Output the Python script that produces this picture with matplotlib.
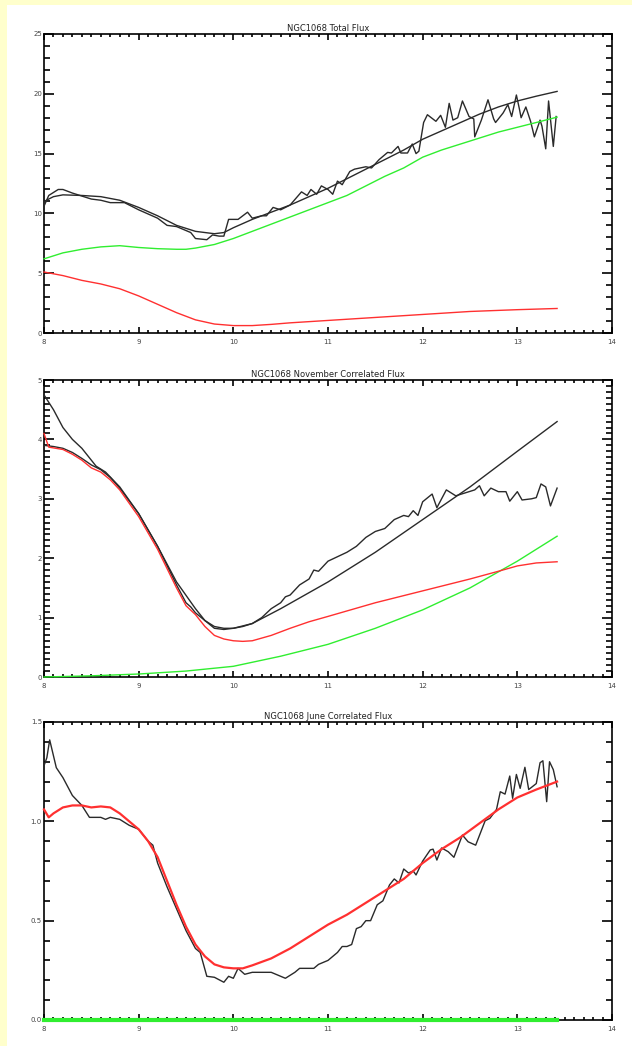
import matplotlib
matplotlib.use("Agg")
import matplotlib.pyplot as plt
from matplotlib.patches import Rectangle
from matplotlib.ticker import MultipleLocator, FormatStrFormatter

# ---- Total flux ----
tot_obs_x = [8.0, 8.05, 8.15, 8.2, 8.3, 8.5, 8.6, 8.7, 8.85, 9.0, 9.2, 9.3, 9.4, 9.55, 9.6,
             9.72, 9.78, 9.85, 9.9, 9.95, 10.0, 10.05, 10.15, 10.2, 10.3, 10.35, 10.42, 10.5,
             10.6, 10.72, 10.78, 10.82, 10.88, 10.93, 11.0, 11.05, 11.1, 11.15, 11.23, 11.28,
             11.4, 11.46, 11.54, 11.63, 11.67, 11.74, 11.77, 11.84, 11.89, 11.93, 11.96, 12.01,
             12.05, 12.14, 12.19, 12.24, 12.28, 12.32, 12.37, 12.42, 12.49, 12.54, 12.55, 12.62,
             12.69, 12.75, 12.77, 12.85, 12.9, 12.94, 12.99, 13.02, 13.04, 13.09, 13.14, 13.18,
             13.24, 13.26, 13.3, 13.33, 13.38, 13.41]
tot_obs_y = [10.6, 11.5, 12.0, 12.0, 11.7, 11.2, 11.1, 10.9, 10.9, 10.3, 9.6, 9.0, 8.9, 8.4, 7.9,
             7.8, 8.2, 8.1, 8.1, 9.5, 9.5, 9.5, 10.1, 9.6, 9.8, 9.8, 10.5, 10.3,
             10.7, 11.8, 11.5, 12.0, 11.6, 12.3, 12.0, 11.6, 12.7, 12.4, 13.5, 13.7,
             13.9, 13.8, 14.5, 15.1, 15.05, 15.6, 15.05, 15.05, 15.8, 15.0, 15.2, 17.6,
             18.25, 17.7, 18.2, 17.2, 19.2, 17.8, 18.0, 19.4, 18.1, 17.9, 16.4, 17.8,
             19.5, 17.9, 17.6, 18.4, 19.1, 18.1, 19.9, 18.8, 18.0, 18.9, 17.7, 16.4,
             17.8, 17.3, 15.4, 19.4, 15.6, 18.1]

tot_mod_x = [8.0, 8.1, 8.2, 8.4, 8.6, 8.8, 9.0, 9.2, 9.4, 9.6, 9.8, 9.9, 10.0, 10.2, 10.4, 10.6,
             10.8, 11.0, 11.2, 11.4, 11.6, 11.8, 12.0, 12.2, 12.4, 12.6, 12.8, 13.0, 13.2, 13.42]
tot_mod_y = [11.0, 11.4, 11.55, 11.5, 11.4, 11.1, 10.5, 9.8, 9.0, 8.5, 8.3, 8.4, 8.8, 9.5, 10.1,
             10.7, 11.4, 12.1, 12.9, 13.7, 14.5, 15.3, 16.2, 16.9, 17.6, 18.3, 18.9, 19.4, 19.8, 20.2]

tot_green_x = [8.0, 8.2, 8.4, 8.6, 8.8, 9.0, 9.2, 9.4, 9.5, 9.6, 9.8, 10.0, 10.2, 10.4, 10.6,
               10.8, 11.0, 11.2, 11.4, 11.6, 11.8, 12.0, 12.2, 12.4, 12.6, 12.8, 13.0, 13.2, 13.42]
tot_green_y = [6.2, 6.7, 7.0, 7.2, 7.3, 7.15, 7.05, 7.0, 7.0, 7.1, 7.4, 7.9, 8.5, 9.1, 9.7,
               10.3, 10.9, 11.5, 12.3, 13.1, 13.8, 14.7, 15.3, 15.8, 16.3, 16.8, 17.2, 17.6, 18.05]

tot_red_x = [8.0, 8.2, 8.4, 8.6, 8.8, 9.0, 9.2, 9.4, 9.6, 9.8, 10.0, 10.2, 10.4, 10.6, 10.8,
             11.0, 11.5, 12.0, 12.5, 13.0, 13.42]
tot_red_y = [5.1, 4.8, 4.4, 4.1, 3.7, 3.1, 2.4, 1.7, 1.1, 0.75, 0.62, 0.62, 0.72, 0.85, 0.95,
             1.05, 1.3, 1.55, 1.8, 1.95, 2.05]

# ---- November correlated flux ----
nov_obs_x = [8.0, 8.1, 8.2, 8.3, 8.4, 8.5, 8.55, 8.65, 8.8, 9.0, 9.2, 9.4, 9.5, 9.55, 9.6, 9.7,
             9.8, 9.9, 10.0, 10.1, 10.2, 10.3, 10.4, 10.5, 10.55, 10.6, 10.7, 10.8, 10.85,
             10.9, 11.0, 11.2, 11.3, 11.4, 11.5, 11.6, 11.7, 11.8, 11.85, 11.9, 11.95, 12.0,
             12.1, 12.15, 12.25, 12.35, 12.45, 12.55, 12.6, 12.65, 12.72, 12.8, 12.88, 12.92,
             13.0, 13.05, 13.15, 13.2, 13.25, 13.3, 13.35, 13.42]
nov_obs_y = [4.75, 4.5, 4.2, 4.0, 3.85, 3.65, 3.55, 3.45, 3.2, 2.75, 2.2, 1.55, 1.25, 1.18, 1.08, 0.95,
             0.85, 0.82, 0.82, 0.85, 0.9, 1.0, 1.15, 1.25, 1.35, 1.38, 1.55, 1.65, 1.8,
             1.78, 1.95, 2.1, 2.2, 2.35, 2.45, 2.5, 2.65, 2.72, 2.7, 2.8, 2.72, 2.95,
             3.08, 2.85, 3.15, 3.05, 3.1, 3.15, 3.22, 3.05, 3.18, 3.12, 3.12, 2.96,
             3.12, 2.98, 3.0, 3.02, 3.25, 3.2, 2.88, 3.18]

nov_mod_x = [8.0, 8.05, 8.1, 8.2, 8.3, 8.4, 8.5, 8.6, 8.7, 8.8, 9.0, 9.2, 9.4, 9.6, 9.7, 9.8,
             9.9, 10.0, 10.2, 10.5, 11.0, 11.5, 12.0, 12.5, 13.0, 13.42]
nov_mod_y = [3.9, 3.89, 3.88, 3.85, 3.78, 3.68, 3.57, 3.49, 3.36, 3.18, 2.75, 2.2, 1.6, 1.15, 0.95,
             0.82, 0.8, 0.82, 0.9, 1.15, 1.6, 2.1, 2.65, 3.2, 3.8, 4.3]

nov_red_x = [8.0, 8.05, 8.2, 8.3, 8.4, 8.5, 8.6, 8.7, 8.8, 9.0, 9.2, 9.4, 9.5, 9.6, 9.7, 9.8,
             9.9, 10.0, 10.1, 10.2, 10.4, 10.6, 10.8, 11.0, 11.5, 12.0, 12.5, 12.8, 13.0, 13.2, 13.42]
nov_red_y = [4.1, 3.87, 3.83, 3.75, 3.65, 3.52, 3.45, 3.32, 3.15, 2.7, 2.15, 1.5, 1.2, 1.05, 0.85,
             0.7, 0.64, 0.61, 0.6, 0.61, 0.7, 0.82, 0.93, 1.02, 1.25, 1.45, 1.65, 1.78, 1.87, 1.92, 1.94]

nov_green_x = [8.0, 8.5, 9.0, 9.5, 10.0, 10.5, 11.0, 11.5, 12.0, 12.5, 13.0, 13.42]
nov_green_y = [0.0, 0.02, 0.05, 0.1, 0.18, 0.35, 0.55, 0.82, 1.13, 1.5, 1.95, 2.37]

# ---- June correlated flux ----
jun_obs_x = [8.0, 8.03, 8.06, 8.13, 8.2, 8.3, 8.4, 8.48, 8.6, 8.65, 8.7, 8.8, 8.9, 9.0, 9.05,
             9.1, 9.15, 9.2, 9.3, 9.4, 9.5, 9.6, 9.65, 9.72, 9.8, 9.9, 9.95, 10.0, 10.05, 10.12,
             10.2, 10.4, 10.5, 10.55, 10.65, 10.7, 10.85, 10.9, 11.0, 11.1, 11.15, 11.2, 11.25,
             11.3, 11.35, 11.4, 11.45, 11.52, 11.58, 11.65, 11.7, 11.75, 11.8, 11.85, 11.9,
             11.93, 12.0, 12.08, 12.11, 12.15, 12.2, 12.27, 12.33, 12.42, 12.48, 12.56, 12.66,
             12.71, 12.78, 12.82, 12.87, 12.92, 12.95, 12.99, 13.03, 13.08, 13.12, 13.2, 13.24,
             13.27, 13.31, 13.34, 13.38, 13.42]
jun_obs_y = [1.28, 1.32, 1.41, 1.27, 1.22, 1.13, 1.08, 1.02, 1.02, 1.01, 1.02, 1.01, 0.98, 0.96, 0.93,
             0.9, 0.88, 0.79, 0.67, 0.56, 0.45, 0.36, 0.34, 0.22, 0.215, 0.19, 0.22, 0.21, 0.26, 0.23,
             0.24, 0.24, 0.22, 0.21, 0.24, 0.26, 0.26, 0.28, 0.30, 0.34, 0.37, 0.37, 0.38,
             0.46, 0.47, 0.5, 0.5, 0.58, 0.6, 0.68, 0.71, 0.69, 0.76, 0.74, 0.75,
             0.73, 0.8, 0.856, 0.86, 0.805, 0.866, 0.847, 0.819, 0.931, 0.897, 0.88, 1.003,
             1.015, 1.06, 1.149, 1.137, 1.228, 1.116, 1.236, 1.166, 1.272, 1.16, 1.19, 1.295,
             1.305, 1.099, 1.30, 1.26, 1.174]

jun_red_x = [8.0, 8.05, 8.1, 8.2, 8.3, 8.4, 8.5, 8.6, 8.7, 8.8, 8.9, 9.0, 9.1, 9.2, 9.3, 9.4,
             9.5, 9.6, 9.7, 9.8, 9.9, 10.0, 10.1, 10.2, 10.4, 10.6, 10.8, 11.0, 11.2, 11.4,
             11.6, 11.8, 12.0, 12.2, 12.4, 12.6, 12.8, 13.0, 13.2, 13.42]
jun_red_y = [1.06, 1.02, 1.04, 1.07, 1.08, 1.08, 1.07, 1.075, 1.07, 1.04, 1.0, 0.96, 0.9, 0.82, 0.7,
             0.58, 0.47, 0.38, 0.32, 0.28, 0.265, 0.26, 0.26, 0.275, 0.31, 0.36, 0.42, 0.48, 0.53,
             0.59, 0.65, 0.71, 0.79, 0.86, 0.92, 0.99, 1.06, 1.12, 1.16, 1.2]

jun_green_x = [8.0, 13.42]
jun_green_y = [0.0, 0.0]

BLACK = "#2a2a2a"
RED = "#ff3030"
GREEN = "#30ee30"

fig = plt.figure(figsize=(6.32, 10.46), dpi=100, facecolor="#ffffcc")
# white sheet behind the plots, yellow margin on the left and top only
fig.patches.append(Rectangle((7 / 632, 0), 1.0, 1 - 5 / 1046,
                             transform=fig.transFigure, facecolor="white",
                             edgecolor="none", zorder=-10))

left, width = 44 / 632, 568 / 632
panels = [
    ("NGC1068 Total Flux", 333, 34, (0, 25), 5, 1, "%d",
     [(tot_obs_x, tot_obs_y, BLACK, 1.0), (tot_mod_x, tot_mod_y, BLACK, 1.0),
      (tot_green_x, tot_green_y, GREEN, 1.0), (tot_red_x, tot_red_y, RED, 1.0)]),
    ("NGC1068 November Correlated Flux", 677, 380, (0, 5), 1, 0.1, "%d",
     [(nov_obs_x, nov_obs_y, BLACK, 1.0), (nov_mod_x, nov_mod_y, BLACK, 1.0),
      (nov_green_x, nov_green_y, GREEN, 1.0), (nov_red_x, nov_red_y, RED, 1.0)]),
    ("NGC1068 June Correlated Flux", 1020, 722, (0, 1.5), 0.5, 0.1, "%.1f",
     [(jun_obs_x, jun_obs_y, BLACK, 1.0), (jun_green_x, jun_green_y, GREEN, 3.0),
      (jun_red_x, jun_red_y, RED, 1.6)]),
]

for title, bot_px, top_px, ylim, ymaj, ymin, fmt, lines in panels:
    ax = fig.add_axes([left, 1 - bot_px / 1046, width, (bot_px - top_px) / 1046])
    ax.set_facecolor("none")
    for x, y, c, lw in lines:
        ax.plot(x, y, color=c, lw=lw, solid_joinstyle="round", clip_on=False, zorder=3)
    ax.set_xlim(8, 14)
    ax.set_ylim(*ylim)
    ax.set_title(title, fontsize=6, pad=2, color="#222222")

    ax.xaxis.set_major_locator(MultipleLocator(1))
    ax.xaxis.set_minor_locator(MultipleLocator(0.1))
    ax.yaxis.set_major_locator(MultipleLocator(ymaj))
    ax.yaxis.set_minor_locator(MultipleLocator(ymin))
    ax.yaxis.set_major_formatter(FormatStrFormatter(fmt))

    ax.tick_params(which="both", direction="in", top=True, right=True,
                   labelsize=5, labelcolor="#444444", width=1.2, color="black")
    ax.tick_params(axis="x", which="major", length=4, pad=4)
    ax.tick_params(axis="x", which="minor", length=2)
    ax.tick_params(axis="y", which="major", length=7.5, pad=1.5)
    ax.tick_params(axis="y", which="minor", length=4.5)
    for s in ax.spines.values():
        s.set_linewidth(1.2)

fig.savefig("out.png", dpi=100, facecolor=fig.get_facecolor())
